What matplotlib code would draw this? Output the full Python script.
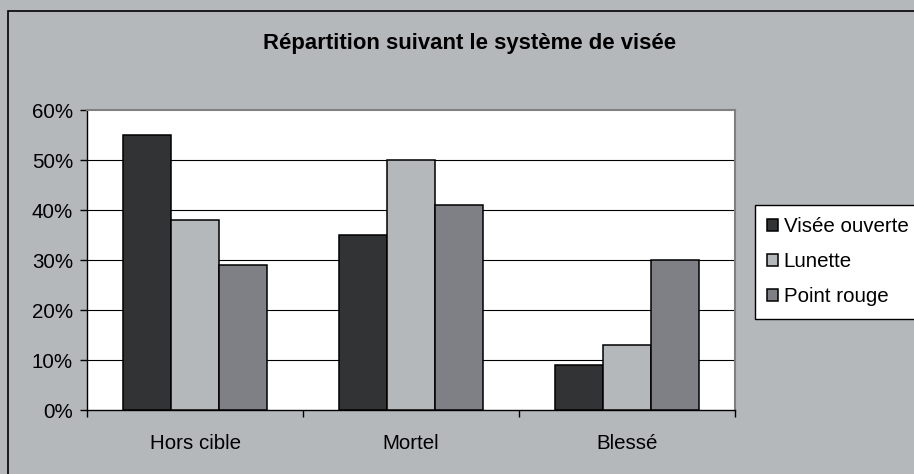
import numpy as np
import matplotlib
matplotlib.use("Agg")
import matplotlib.pyplot as plt
from matplotlib.patches import Rectangle

# data (percent)
categories = ["Hors cible", "Mortel", "Blessé"]
series_names = ["Visée ouverte", "Lunette", "Point rouge"]
visee_ouverte = [55, 35, 9]
lunette = [38, 50, 13]
point_rouge = [29, 41, 30]
yticks = [0, 10, 20, 30, 40, 50, 60]

bg = "#b5b8bb"
colors = ["#313335", "#b5b8bb", "#7f8085"]
fs = 14.8

plt.rcParams["font.family"] = ["Liberation Sans", "DejaVu Sans"]
fig = plt.figure(figsize=(9.14, 4.74), dpi=100, facecolor=bg)

# outer chart border (cut off on right/bottom like the original)
fig.patches.append(Rectangle((8 / 914, -0.05), 1.2, 1 - 11 / 474 + 0.05,
                             transform=fig.transFigure, fill=False,
                             edgecolor="black", linewidth=1.2))

ax = fig.add_axes([87 / 914, 64 / 474, 648 / 914, 300 / 474])
ax.set_facecolor("white")

w = 1 / 4.5
x = np.arange(len(categories))
allvals = [visee_ouverte, lunette, point_rouge]
for j, vals in enumerate(allvals):
    ax.bar(x + (j - 1) * w, vals, width=w, color=colors[j], edgecolor="black",
           linewidth=1.1, label=series_names[j], zorder=3)

ax.set_xlim(-0.5, 2.5)
ax.set_ylim(0, 60)
ax.set_yticks(yticks)
ax.set_yticklabels([f"{t}%" for t in yticks])
for t in yticks[1:-1]:
    ax.axhline(t, color="black", linewidth=0.8, zorder=1)

# category boundaries as major ticks, names on minor ticks
ax.set_xticks([-0.5, 0.5, 1.5, 2.5])
ax.set_xticklabels([])
ax.set_xticks(x, minor=True)
ax.set_xticklabels(categories, minor=True)
ax.tick_params(axis="x", which="major", direction="out", length=5, width=1)
ax.tick_params(axis="x", which="minor", length=0, pad=17, labelsize=fs)
ax.tick_params(axis="y", direction="out", length=5, width=1, pad=5, labelsize=fs)

for s in ["left", "bottom"]:
    ax.spines[s].set_color("black")
    ax.spines[s].set_linewidth(1.0)
for s in ["top", "right"]:
    ax.spines[s].set_color("#808080")
    ax.spines[s].set_linewidth(1.5)

fig.text(470 / 914, 1 - 44 / 474, "Répartition suivant le système de visée",
         ha="center", va="center", fontsize=15.9, fontweight="bold")

leg = ax.legend(loc="upper left", bbox_to_anchor=(755 / 914, 1 - 205 / 474),
                bbox_transform=fig.transFigure, fontsize=fs, frameon=True,
                fancybox=False, edgecolor="black", framealpha=1,
                handlelength=0.5, handleheight=0.5, handletextpad=0.3,
                labelspacing=0.78, borderpad=0.6, borderaxespad=0)
leg.get_frame().set_linewidth(1.0)

fig.savefig("out.png", dpi=100, facecolor=bg)
